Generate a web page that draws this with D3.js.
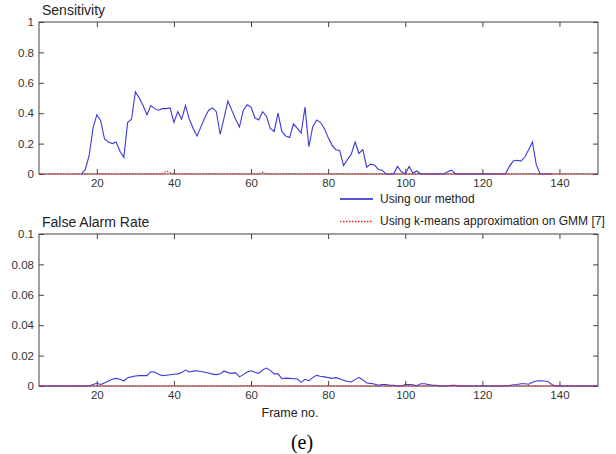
<!DOCTYPE html>
<html>
<head>
<meta charset="utf-8">
<script src="https://cdn.jsdelivr.net/npm/d3@7"></script>
<style>
  body { margin: 0; background: #fff; }
  svg text { font-family: "Liberation Sans", Arial, sans-serif; }
</style>
</head>
<body>
<div id="chart"></div>
<script>
// frame no. vs sensitivity / false alarm rate

var sensitivity = [
  [16, 0], [17, 0.03], [18, 0.12], [19, 0.30], [20, 0.39], [21, 0.35], [22, 0.23], [23, 0.21],
  [24, 0.20], [25, 0.21], [26, 0.15], [27, 0.11], [28, 0.34], [29, 0.36], [30, 0.54], [31, 0.50],
  [32, 0.45], [33, 0.39], [34, 0.45], [35, 0.43], [36, 0.42], [37, 0.43], [38, 0.43], [39, 0.435],
  [40, 0.34], [41, 0.41], [42, 0.36], [43, 0.45], [44, 0.36], [45, 0.30], [46, 0.25], [47, 0.31],
  [48, 0.37], [49, 0.42], [50, 0.435], [51, 0.41], [52, 0.26], [53, 0.37], [54, 0.48], [55, 0.42],
  [56, 0.36], [57, 0.31], [58, 0.42], [59, 0.455], [60, 0.44], [61, 0.37], [62, 0.355], [63, 0.41],
  [64, 0.38], [65, 0.30], [66, 0.28], [67, 0.40], [68, 0.28], [69, 0.25], [70, 0.24], [71, 0.33],
  [72, 0.30], [73, 0.27], [74, 0.44], [75, 0.18], [76, 0.31], [77, 0.355], [78, 0.34], [79, 0.30],
  [80, 0.24], [81, 0.19], [82, 0.16], [83, 0.155], [84, 0.055], [85, 0.095], [86, 0.13], [87, 0.21],
  [88, 0.135], [89, 0.16], [90, 0.045], [91, 0.065], [92, 0.06], [93, 0.03], [94, 0.025], [95, 0],
  [97, 0], [98, 0.05], [99, 0.015], [100, 0], [101, 0.05], [102, 0.005], [103, 0.02], [104, 0],
  [110, 0], [111, 0.015], [112, 0.025], [113, 0], [126, 0], [127, 0.05], [128, 0.085], [129, 0.09],
  [130, 0.085], [131, 0.11], [132, 0.16], [133, 0.21], [134, 0.06], [135, 0], [138, 0]
];

var kmeansSensitivity = [
  [5, 0], [37, 0], [38, 0.02], [39, 0.01], [40, 0], [62, 0], [63, 0.012], [64, 0], [150, 0]
];

var falseAlarm = [
  [5, 0], [18, 0], [19, 0.001], [20, 0.0018], [21, 0.001], [22, 0.002], [23, 0.0033], [24, 0.0045],
  [25, 0.005], [26, 0.0045], [27, 0.0033], [28, 0.0055], [29, 0.006], [30, 0.0066], [31, 0.0068],
  [32, 0.0068], [33, 0.0068], [34, 0.0094], [35, 0.0092], [36, 0.0078], [37, 0.0068], [38, 0.0071],
  [39, 0.0074], [40, 0.0077], [41, 0.008], [42, 0.0088], [43, 0.0105], [44, 0.0092], [45, 0.0098],
  [46, 0.010], [47, 0.0095], [48, 0.009], [49, 0.0085], [50, 0.0078], [51, 0.0075], [52, 0.008],
  [53, 0.0099], [54, 0.0088], [55, 0.0083], [56, 0.0088], [57, 0.006], [58, 0.0075], [59, 0.0092],
  [60, 0.010], [61, 0.009], [62, 0.0083], [63, 0.0105], [64, 0.0118], [65, 0.0103], [66, 0.008],
  [67, 0.008], [68, 0.0048], [69, 0.0052], [70, 0.005], [71, 0.0048], [72, 0.0046], [73, 0.0024],
  [74, 0.0044], [75, 0.0035], [76, 0.0055], [77, 0.007], [78, 0.0064], [79, 0.006], [80, 0.0055],
  [81, 0.005], [82, 0.0055], [83, 0.0048], [84, 0.0038], [85, 0.003], [86, 0.0026], [87, 0.0042],
  [88, 0.0057], [89, 0.004], [90, 0.002], [91, 0.0017], [92, 0.0013], [93, 0.0004], [94, 0.001],
  [95, 0.001], [96, 0.0005], [97, 0.0005], [98, 0], [99, 0], [100, 0.001], [101, 0.001],
  [102, 0.0008], [103, 0.0002], [104, 0.0015], [105, 0.0015], [106, 0.001], [107, 0.0005],
  [108, 0.0005], [109, 0], [111, 0], [112, 0.0005], [113, 0.0005], [114, 0], [126, 0],
  [127, 0.0003], [128, 0.0008], [129, 0.001], [130, 0.0015], [131, 0.0015], [132, 0.0012],
  [133, 0.0025], [134, 0.0033], [135, 0.0034], [136, 0.0033], [137, 0.003], [138, 0.001],
  [139, 0], [150, 0]
];

var kmeansFalseAlarm = [[5, 0], [150, 0]];

var frameTicks = [20, 40, 60, 80, 100, 120, 140];
var sensTicks = [0, 0.2, 0.4, 0.6, 0.8, 1];
var sensTickLabels = ['0', '0.2', '0.4', '0.6', '0.8', '1'];
var faTicks = [0, 0.02, 0.04, 0.06, 0.08, 0.1];
var faTickLabels = ['0', '0.02', '0.04', '0.06', '0.08', '0.1'];

var legendLabels = ['Using our method', 'Using k-means approximation on GMM [7]'];

var W = 616, H = 454;
var left = 39, right = 598;
var blue = '#3a3ad8', red = '#ff1a1a', axisColor = '#444';

var svg = d3.select('#chart').append('svg').attr('width', W).attr('height', H);

var x = d3.scaleLinear().domain([5, 150]).range([left, right]);

function panel(top, bottom, yDomain, yTicks, yLabels, title, ours, theirs) {
  var y = d3.scaleLinear().domain(yDomain).range([bottom, top]);
  var g = svg.append('g');

  var line = d3.line()
    .x(function(d) { return x(d[0]); })
    .y(function(d) { return y(d[1]); });

  g.append('rect')
    .attr('x', left).attr('y', top)
    .attr('width', right - left).attr('height', bottom - top)
    .attr('fill', 'none')
    .attr('stroke', axisColor)
    .attr('stroke-width', 1);

  // axes, ticks pointing inwards on all four sides
  var ax = g.append('g').attr('transform', 'translate(0,' + bottom + ')')
    .call(d3.axisBottom(x).tickValues(frameTicks).tickSize(-5).tickPadding(5).tickSizeOuter(0));
  var at = g.append('g').attr('transform', 'translate(0,' + top + ')')
    .call(d3.axisTop(x).tickValues(frameTicks).tickSize(-5).tickFormat('').tickSizeOuter(0));
  var al = g.append('g').attr('transform', 'translate(' + left + ',0)')
    .call(d3.axisLeft(y).tickValues(yTicks).tickSize(-5).tickPadding(5).tickSizeOuter(0)
      .tickFormat(function(d, i) { return yLabels[i]; }));
  var ar = g.append('g').attr('transform', 'translate(' + right + ',0)')
    .call(d3.axisRight(y).tickValues(yTicks).tickSize(-5).tickFormat('').tickSizeOuter(0));

  [ax, at, al, ar].forEach(function(a) {
    a.select('.domain').remove();
    a.selectAll('line').attr('stroke', axisColor);
    a.selectAll('text').attr('fill', '#333').style('font-size', '11.5px').attr('font-family', null);
  });

  g.append('path').datum(ours)
    .attr('d', line)
    .attr('fill', 'none')
    .attr('stroke', blue)
    .attr('stroke-width', 1.1);

  g.append('path').datum(theirs)
    .attr('d', line)
    .attr('fill', 'none')
    .attr('stroke', red)
    .attr('stroke-width', 1.2)
    .attr('stroke-dasharray', '1.5,1.5');

  g.append('text')
    .attr('x', left + 3).attr('y', top - 7)
    .attr('fill', '#222')
    .style('font-size', '14px')
    .text(title);

  return y;
}

panel(22, 174, [0, 1], sensTicks, sensTickLabels, 'Sensitivity', sensitivity, kmeansSensitivity);
panel(234, 386, [0, 0.1], faTicks, faTickLabels, 'False Alarm Rate', falseAlarm, kmeansFalseAlarm);

// legend
var legend = svg.append('g');
legend.append('line')
  .attr('x1', 340).attr('x2', 373).attr('y1', 199).attr('y2', 199)
  .attr('stroke', '#1c1cd0').attr('stroke-width', 1.4);
legend.append('line')
  .attr('x1', 340).attr('x2', 373).attr('y1', 221.5).attr('y2', 221.5)
  .attr('stroke', red).attr('stroke-width', 1.3).attr('stroke-dasharray', '1.5,1.5');
legend.selectAll('.lbl')
  .data(legendLabels)
  .enter().append('text')
  .attr('class', 'lbl')
  .attr('x', 380)
  .attr('y', function(d, i) { return i === 0 ? 203 : 225; })
  .attr('fill', '#222')
  .style('font-size', '12px')
  .text(function(d) { return d; });

svg.append('text')
  .attr('x', 290).attr('y', 417)
  .attr('text-anchor', 'middle')
  .attr('fill', '#222')
  .style('font-size', '12.5px')
  .text('Frame no.');

svg.append('text')
  .attr('x', 302).attr('y', 449)
  .attr('text-anchor', 'middle')
  .attr('fill', '#000')
  .style('font-family', '"Liberation Serif", "Times New Roman", serif')
  .style('font-size', '20px')
  .text('(e)');
</script>
</body>
</html>
